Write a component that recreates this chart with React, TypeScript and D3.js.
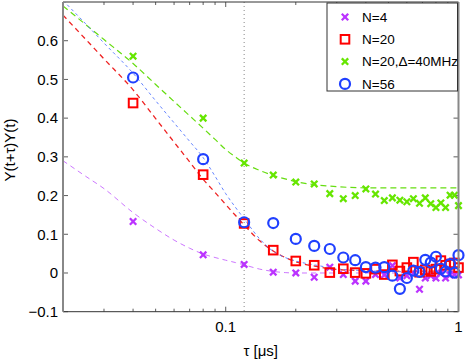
import React from 'react';
import * as d3 from 'd3';

// measured points, tau = k * 0.04 us
const tauPts = d3.range(1, 26).map(k => +(k * 0.04).toFixed(2));
const n4 = [0.133, 0.047, 0.022, 0.002, 0.000, -0.011, 0.015, -0.004, -0.021, -0.021, -0.004, -0.005, 0.019, -0.013, -0.007, -0.001, -0.042, -0.013, -0.007, -0.013, -0.001, -0.013, -0.005, -0.004, -0.005];
const n20 = [0.439, 0.254, 0.128, 0.059, 0.031, 0.020, 0.001, 0.011, 0.001, -0.001, 0.010, -0.004, 0.021, 0.005, 0.014, 0.028, 0.002, 0.008, 0.004, 0.010, 0.032, 0.020, 0.023, 0.026, 0.014];
const n20d = [0.560, 0.400, 0.284, 0.253, 0.235, 0.230, 0.205, 0.192, 0.200, 0.217, 0.204, 0.187, 0.194, 0.188, 0.184, 0.192, 0.180, 0.194, 0.179, 0.169, 0.181, 0.169, 0.201, 0.201, 0.174];
const n56 = [0.505, 0.294, 0.131, 0.129, 0.088, 0.070, 0.062, 0.040, 0.033, 0.015, 0.014, 0.015, -0.007, -0.041, -0.013, 0.006, 0.003, 0.034, 0.027, 0.042, 0.011, 0.004, 0.023, 0.001, 0.046];

// fitted curves (dashed)
const fitTau = [0.02, 0.025, 0.03, 0.04, 0.05, 0.06, 0.07, 0.08, 0.09, 0.1, 0.11, 0.12, 0.14, 0.16, 0.18, 0.2, 0.25, 0.3, 0.4, 0.5, 0.7, 1.0];
const fitN4 = [0.290, 0.250, 0.218, 0.156, 0.115, 0.085, 0.064, 0.049, 0.040, 0.033, 0.027, 0.021, 0.010, 0.004, 0.001, 0.000, 0.000, 0.000, 0.000, 0.000, 0.000, 0.000];
const fitN20 = [0.666, 0.604, 0.553, 0.473, 0.399, 0.338, 0.287, 0.242, 0.208, 0.177, 0.149, 0.124, 0.083, 0.057, 0.040, 0.029, 0.016, 0.009, 0.006, 0.005, 0.005, 0.005];
const fitN20d = [0.690, 0.642, 0.603, 0.541, 0.487, 0.443, 0.406, 0.374, 0.345, 0.319, 0.300, 0.284, 0.265, 0.252, 0.243, 0.236, 0.227, 0.223, 0.220, 0.220, 0.220, 0.220];
const fitN56 = [0.704, 0.644, 0.594, 0.516, 0.445, 0.388, 0.340, 0.298, 0.250, 0.205, 0.170, 0.140, 0.088, 0.056, 0.040, 0.031, 0.019, 0.011, 0.006, 0.004, 0.003, 0.003];

const xTicks = [0.1, 1];
const xMinor = [0.03, 0.04, 0.05, 0.06, 0.07, 0.08, 0.09, 0.2, 0.3, 0.4, 0.5, 0.6, 0.7, 0.8, 0.9];
const yTicks = [-0.1, 0, 0.1, 0.2, 0.3, 0.4, 0.5, 0.6];
const legendLabels = ['N=4', 'N=20', 'N=20,\u0394=40MHz', 'N=56'];
const markerTau = 0.12;

const W = 471, H = 361;
const L = 63, R = 458.5, T = 2, B = 311.7;
const font = '"Liberation Sans", Arial, sans-serif';

const purple = '#bb33ff';
const red = '#ff0000';
const green = '#66e600';
const blue = '#2040ff';

const x = d3.scaleLog().domain([0.02, 1]).range([L, R]);
const y = d3.scaleLinear().domain([-0.1, 0.7]).range([B, T]);

const Cross = ({ cx, cy, color, s = 3.2 }) => (
  <g stroke={color} strokeWidth={2.3}>
    <line x1={cx - s} y1={cy - s} x2={cx + s} y2={cy + s} />
    <line x1={cx - s} y1={cy + s} x2={cx + s} y2={cy - s} />
  </g>
);
const Square = ({ cx, cy }) => (
  <rect x={cx - 4.3} y={cy - 4.3} width={8.6} height={8.6} fill="none" stroke={red} strokeWidth={2} />
);
const Circle = ({ cx, cy }) => (
  <circle cx={cx} cy={cy} r={5} fill="none" stroke={blue} strokeWidth={2.2} />
);

const line = (vals: number[]) =>
  d3.line<number>().x((_, i) => x(fitTau[i])).y(d => y(d)).curve(d3.curveMonotoneX)(vals) || '';

export default function App() {
  const fits = [
    { v: fitN4, c: '#cc77ff', w: 1, dash: '5,4' },
    { v: fitN20, c: '#ee2222', w: 1.3, dash: '5,4' },
    { v: fitN20d, c: '#66dd11', w: 1.2, dash: '6,4' },
    { v: fitN56, c: '#5577ff', w: 0.9, dash: '3,3' },
  ];
  return (
    <svg width={W} height={H} style={{ position: 'absolute', left: 0, top: 0, background: '#fff' }} fontFamily={font}>
      <defs>
        <clipPath id="plot"><rect x={L} y={T} width={R - L} height={B - T} /></clipPath>
      </defs>
      <rect x={L} y={T} width={R - L} height={B - T} fill="#fff" />

      {/* reference line */}
      <line x1={x(markerTau)} x2={x(markerTau)} y1={T} y2={B} stroke="#888" strokeWidth={1} strokeDasharray="1,3" />

      <g clipPath="url(#plot)" fill="none">
        {fits.map((f, i) => (
          <path key={i} d={line(f.v)} stroke={f.c} strokeWidth={f.w} strokeDasharray={f.dash} />
        ))}
      </g>

      {/* ticks */}
      <g stroke="#333" strokeWidth={0.8}>
        {xTicks.concat(xMinor).map((t, i) => (
          <g key={i}>
            <line x1={x(t)} x2={x(t)} y1={B} y2={B - (xTicks.includes(t) ? 5 : 3)} />
            <line x1={x(t)} x2={x(t)} y1={T} y2={T + (xTicks.includes(t) ? 5 : 3)} />
          </g>
        ))}
        {yTicks.map((t, i) => (
          <g key={i}>
            <line x1={L} x2={L + 5} y1={y(t)} y2={y(t)} />
            <line x1={R} x2={R - 5} y1={y(t)} y2={y(t)} />
          </g>
        ))}
      </g>

      {/* markers */}
      {n4.map((v, i) => <Cross key={'a' + i} cx={x(tauPts[i])} cy={y(v)} color={purple} />)}
      {n20.map((v, i) => <Square key={'b' + i} cx={x(tauPts[i])} cy={y(v)} />)}
      {n20d.map((v, i) => <Cross key={'c' + i} cx={x(tauPts[i])} cy={y(v)} color={green} />)}
      {n56.map((v, i) => <Circle key={'d' + i} cx={x(tauPts[i])} cy={y(v)} />)}

      {/* axes box */}
      <line x1={L} x2={R} y1={B} y2={B} stroke="#333" strokeWidth={1} />
      <line x1={L} x2={R} y1={T} y2={T} stroke="#333" strokeWidth={1} />
      <line x1={L} x2={L} y1={T} y2={B} stroke="#888" strokeWidth={2} />
      <line x1={R} x2={R} y1={T} y2={B} stroke="#888" strokeWidth={2} />

      {/* tick labels */}
      {yTicks.map((t, i) => (
        <text key={i} x={L - 5} y={y(t)} dy="0.35em" textAnchor="end" fontSize={15}>
          {t < 0 ? '\u2212' + Math.abs(t) : String(t)}
        </text>
      ))}
      {xTicks.map((t, i) => (
        <text key={i} x={x(t)} y={B + 20} textAnchor="middle" fontSize={15}>{String(t)}</text>
      ))}
      <text x={(L + R) / 2} y={356} textAnchor="middle" fontSize={15}>τ [μs]</text>
      <text transform={`translate(15,150) rotate(-90)`} textAnchor="middle" fontSize={15}>Y(t+τ)Y(t)</text>

      {/* legend */}
      <g>
        <rect x={327} y={T + 1} width={R - 327 - 1} height={88} fill="#fff" stroke="#333" strokeWidth={1} />
        {legendLabels.map((lab, i) => {
          const ly = 17 + i * 22.3;
          const mx = 345;
          return (
            <g key={i}>
              {i === 0 && <Cross cx={mx} cy={ly} color={purple} />}
              {i === 1 && <Square cx={mx} cy={ly} />}
              {i === 2 && <Cross cx={mx} cy={ly} color={green} />}
              {i === 3 && <Circle cx={mx} cy={ly} />}
              <text x={362} y={ly} dy="0.35em" fontSize={13.5}>{lab}</text>
            </g>
          );
        })}
      </g>
    </svg>
  );
}
